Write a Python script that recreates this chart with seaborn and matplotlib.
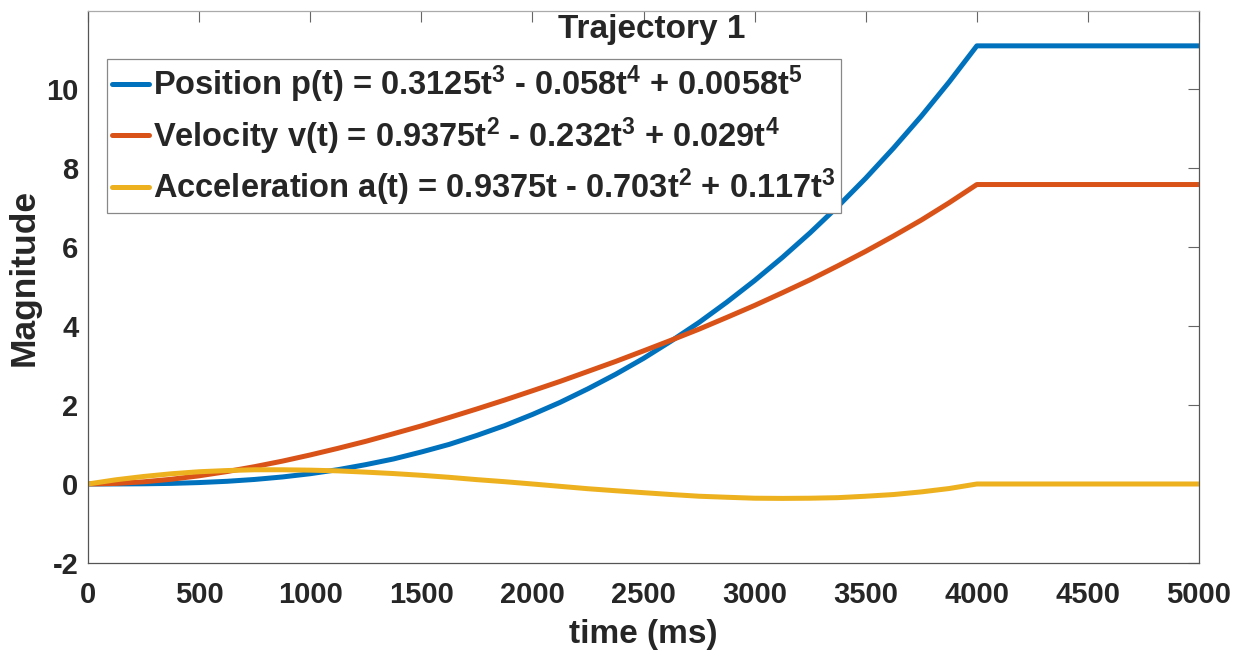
import matplotlib
matplotlib.use("Agg")
import matplotlib.pyplot as plt
import seaborn as sns
import pandas as pd

# values (time in ms)
time_ms = [0, 125, 250, 375, 500, 625, 750, 875, 1000, 1125, 1250, 1375, 1500,
           1625, 1750, 1875, 2000, 2125, 2250, 2375, 2500, 2625, 2750, 2875,
           3000, 3125, 3250, 3375, 3500, 3625, 3750, 3875, 4000, 5000]
position = [0, 0.001, 0.005, 0.015, 0.036, 0.068, 0.115, 0.178, 0.26, 0.363,
            0.49, 0.634, 0.81, 1.002, 1.23, 1.478, 1.76, 2.067, 2.41, 2.779,
            3.18, 3.621, 4.09, 4.603, 5.15, 5.735, 6.36, 7.028, 7.74, 8.502,
            9.31, 10.173, 11.09, 11.09]
velocity = [0, 0.014, 0.055, 0.120, 0.207, 0.314, 0.439, 0.579, 0.735, 0.903,
            1.08, 1.273, 1.47, 1.682, 1.90, 2.125, 2.36, 2.598, 2.85, 3.103,
            3.37, 3.641, 3.92, 4.217, 4.52, 4.841, 5.17, 5.523, 5.89, 6.277,
            6.68, 7.117, 7.58, 7.58]
acceleration = [0, 0.106, 0.19, 0.259, 0.31, 0.34, 0.36, 0.36, 0.35, 0.332,
                0.30, 0.264, 0.22, 0.169, 0.11, 0.058, 0.0, -0.06, -0.12,
                -0.171, -0.22, -0.267, -0.31, -0.336, -0.36, -0.365, -0.36,
                -0.346, -0.31, -0.267, -0.20, -0.115, 0.0, 0.0]

labels = [
    r"Position p(t) = 0.3125t$^{3}$ - 0.058t$^{4}$ + 0.0058t$^{5}$",
    r"Velocity v(t) = 0.9375t$^{2}$ - 0.232t$^{3}$ + 0.029t$^{4}$",
    r"Acceleration a(t) = 0.9375t - 0.703t$^{2}$ + 0.117t$^{3}$",
]
colors = ["#0072BD", "#D95319", "#EDB120"]

df = pd.concat([
    pd.DataFrame({"time": time_ms, "value": vals, "series": lab})
    for vals, lab in zip([position, velocity, acceleration], labels)
])

sns.set_style("white")
plt.rcParams["font.family"] = ["Liberation Sans", "DejaVu Sans"]
plt.rcParams["font.weight"] = "bold"
plt.rcParams["axes.unicode_minus"] = False
plt.rcParams["mathtext.fontset"] = "custom"
plt.rcParams["mathtext.rm"] = "Liberation Sans:bold"
plt.rcParams["mathtext.default"] = "rm"

fig = plt.figure(figsize=(12.49, 6.52), dpi=100)
ax = fig.add_axes([0.0705, 0.1365, 0.8895, 0.8465])

sns.lineplot(data=df, x="time", y="value", hue="series", palette=colors,
             linewidth=3.6, ax=ax, legend=True)

ax.set_xlim(0, 5000)
ax.set_ylim(-2, 11.97)
ax.set_xticks(range(0, 5001, 500))
ax.set_yticks([-2, 0, 2, 4, 6, 8, 10])
ax.tick_params(direction="in", length=8, width=0.8, colors="#666666",
               labelcolor="#262626", labelsize=21, top=True, right=True)
ax.tick_params(axis="x", pad=13)
ax.tick_params(axis="y", pad=7)
for lab in ax.get_xticklabels() + ax.get_yticklabels():
    lab.set_fontweight("bold")
for side in ["left", "bottom", "right"]:
    ax.spines[side].set_color("#555555")
    ax.spines[side].set_linewidth(0.9)
ax.spines["top"].set_color("#aaaaaa")
ax.spines["top"].set_linewidth(0.9)

ax.set_xlabel("time (ms)", fontsize=24, fontweight="bold", color="#262626", labelpad=7)
ax.set_ylabel("Magnitude", fontsize=25.5, fontweight="bold", color="#262626")
ax.yaxis.set_label_coords(-0.043, 0.518)
ax.set_title("Trajectory 1", fontsize=24, fontweight="bold", x=0.507, y=0.951, pad=0)

leg = ax.legend(loc="upper left", bbox_to_anchor=(0.017, 0.913), borderaxespad=0,
                fontsize=23.5, handlelength=1.15, handletextpad=0.12,
                labelspacing=0.3, borderpad=0.15, fancybox=False, framealpha=1,
                edgecolor="#888888")
for t in leg.get_texts():
    t.set_fontweight("bold")
leg.get_frame().set_linewidth(0.9)

fig.savefig("out.png", dpi=100)
